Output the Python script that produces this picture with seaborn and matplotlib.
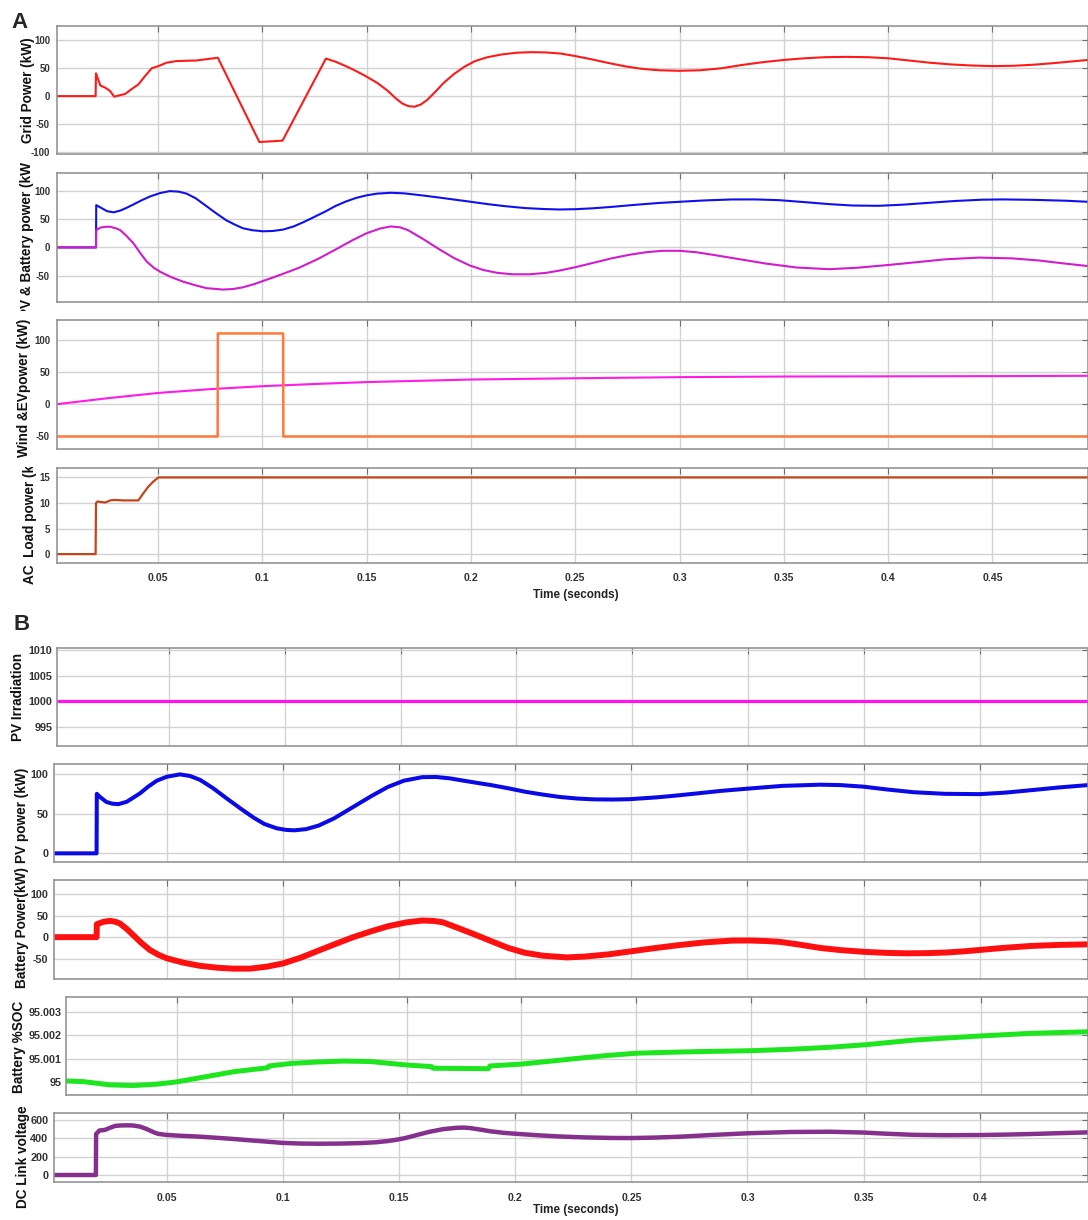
import matplotlib
matplotlib.use("Agg")
import matplotlib.pyplot as plt
from matplotlib import font_manager
from matplotlib.ticker import FuncFormatter
import seaborn as sns
from matplotlib.transforms import Bbox, TransformedBbox, blended_transform_factory

# ---------------- panel A: grid / PV & battery / wind & EV / AC load ----------------
grid_t = [0.0016, 0.0201, 0.0203, 0.0211, 0.0224, 0.0248, 0.0271, 0.0290, 0.0311, 0.0343,
          0.0375, 0.0406, 0.0438, 0.0470, 0.0502, 0.0541, 0.0589, 0.0684, 0.0787, 0.0986,
          0.1097, 0.1305, 0.1350, 0.1400, 0.1450, 0.1500, 0.1550, 0.1600, 0.1640, 0.1670,
          0.1700, 0.1730, 0.1760, 0.1790, 0.1830, 0.1870, 0.1920, 0.1970, 0.2020, 0.2080,
          0.2150, 0.2220, 0.2290, 0.2360, 0.2430, 0.2500, 0.2580, 0.2660, 0.2740, 0.2820,
          0.2900, 0.3000, 0.3100, 0.3200, 0.3300, 0.3400, 0.3500, 0.3600, 0.3700, 0.3800,
          0.3900, 0.4000, 0.4100, 0.4200, 0.4300, 0.4400, 0.4500, 0.4600, 0.4700, 0.4800,
          0.4900, 0.4958]
grid_kw = [0, 0, 41, 32, 19, 15, 9, -1, 1, 4,
           13, 21, 36, 50, 54, 60, 63, 64, 69, -82.5,
           -80, 67.5, 62, 54, 45, 35, 24, 10, -4, -13,
           -18, -19, -15, -7, 8, 24, 40, 53, 63, 70,
           75, 78, 79, 78.5, 76.5, 72, 66, 59.5, 53.5, 49,
           46.5, 45.5, 46.5, 50, 56, 61, 65, 68, 70, 70.5,
           70, 68, 64, 60, 57, 55, 54, 54.5, 56.5, 59.5,
           63, 65]

pv_t = [0.0016, 0.0203, 0.0204, 0.0224, 0.0256, 0.0287, 0.0319, 0.0350, 0.0383, 0.0420,
        0.0462, 0.0510, 0.0557, 0.0600, 0.0637, 0.0680, 0.0732, 0.0780, 0.0827, 0.0870,
        0.0906, 0.0950, 0.1002, 0.1050, 0.1100, 0.1150, 0.1200, 0.1250, 0.1300, 0.1350,
        0.1400, 0.1450, 0.1500, 0.1550, 0.1616, 0.1680, 0.1764, 0.1850, 0.1920, 0.2000,
        0.2080, 0.2160, 0.2260, 0.2350, 0.2424, 0.2500, 0.2580, 0.2672, 0.2780, 0.2900,
        0.3000, 0.3120, 0.3249, 0.3360, 0.3476, 0.3600, 0.3716, 0.3830, 0.3955, 0.4070,
        0.4195, 0.4320, 0.4450, 0.4550, 0.4700, 0.4850, 0.4958]
pv_kw = [0, 0, 74.7, 70.6, 64, 62, 65, 70, 76, 83,
         90, 96, 99.5, 98.5, 95, 87, 73, 60, 48, 40,
         34, 30.5, 28.5, 29, 31.5, 37, 45, 54, 63, 73,
         81, 87.5, 92, 95, 96.5, 95.5, 92, 88, 84.5, 80.6,
         76.5, 73, 69.5, 67.8, 67, 67.5, 69, 71.5, 75, 78.5,
         80.6, 83, 84.7, 84.8, 83.5, 80, 76.5, 74, 73.5, 75.5,
         78.8, 82, 84.3, 84.8, 84, 82.5, 80.6]

batt_t = [0.0016, 0.0203, 0.0204, 0.0224, 0.0250, 0.0271, 0.0300, 0.0319, 0.0350, 0.0383,
          0.0415, 0.0446, 0.0480, 0.0510, 0.0560, 0.0621, 0.0680, 0.0732, 0.0811, 0.0860,
          0.0906, 0.0960, 0.1017, 0.1060, 0.1104, 0.1176, 0.1269, 0.1350, 0.1434, 0.1500,
          0.1566, 0.1616, 0.1660, 0.1698, 0.1770, 0.1847, 0.1920, 0.1995, 0.2060, 0.2127,
          0.2200, 0.2280, 0.2360, 0.2424, 0.2500, 0.2590, 0.2672, 0.2760, 0.2840, 0.2917,
          0.3000, 0.3080, 0.3167, 0.3290, 0.3413, 0.3560, 0.3716, 0.3850, 0.4003, 0.4140,
          0.4275, 0.4435, 0.4594, 0.4720, 0.4834, 0.4958]
batt_kw = [0, 0, 30.6, 35, 36.5, 36.5, 33.5, 30.6, 20, 7,
           -10, -25, -36, -43, -52, -60.6, -67, -72, -74.5, -73.5,
           -70.6, -65, -57.6, -52, -46, -36, -20, -4, 13, 25,
           33.5, 37, 35.5, 30.6, 15, -3, -19, -32, -40, -45,
           -47.5, -47.5, -45, -41, -35, -27, -19.5, -13, -8.5, -6,
           -6, -8.5, -13.5, -21, -28.5, -35.5, -38.5, -36, -31, -26,
           -21, -18, -19.4, -23, -28, -33]

wind_t = [0.0016, 0.025, 0.05, 0.075, 0.1, 0.125, 0.15, 0.2, 0.25, 0.3, 0.35, 0.4, 0.45, 0.4958]
wind_kw = [0.5, 9.5, 18, 24, 28.6, 32, 35, 39, 41, 42.7, 43.7, 44, 44.3, 44.8]

ev_t = [0.0016, 0.0786, 0.0787, 0.1100, 0.1101, 0.4958]
ev_kw = [-50, -50, 111, 111, -50, -50]

load_t = [0.0016, 0.0201, 0.0203, 0.0211, 0.0224, 0.0248, 0.0271, 0.0290, 0.0330, 0.0406,
          0.0430, 0.0454, 0.0478, 0.0502, 0.4958]
load_kw = [0, 0, 10.0, 10.3, 10.2, 10.1, 10.5, 10.6, 10.5, 10.5,
           11.9, 13.2, 14.2, 15, 15]

# ---------------- panel B: irradiation / PV / battery / SOC / DC link ----------------
irr_t = [0.0016, 0.4466]
irr_wm2 = [1000, 1000]

pvb_t = [0.0016, 0.0198, 0.0199, 0.0213, 0.0241, 0.0267, 0.0292, 0.0328, 0.0355, 0.0385,
         0.0420, 0.0457, 0.0500, 0.0557, 0.0600, 0.0644, 0.0700, 0.0759, 0.0820, 0.0874,
         0.0920, 0.0974, 0.1015, 0.1050, 0.1100, 0.1154, 0.1220, 0.1303, 0.1380, 0.1451,
         0.1520, 0.1600, 0.1660, 0.1718, 0.1800, 0.1896, 0.1970, 0.2045, 0.2120, 0.2193,
         0.2270, 0.2341, 0.2420, 0.2490, 0.2608, 0.2700, 0.2786, 0.2890, 0.3000, 0.3150,
         0.3313, 0.3400, 0.3500, 0.3600, 0.3716, 0.3850, 0.4000, 0.4110, 0.4218, 0.4340,
         0.4466]
pvb_kw = [0, 0, 75, 71, 64.6, 62.5, 62, 65, 70, 75.6,
          84, 91.5, 96.5, 99.5, 97.5, 92.5, 82, 69, 56, 45,
          37, 31.5, 29.5, 29, 30.5, 35, 44, 58.5, 72, 83.5,
          91.5, 96, 96.2, 94.5, 90.5, 86, 82, 77.5, 74, 71,
          69, 68, 67.8, 68.2, 70.5, 73, 75.6, 78.8, 81.5, 85,
          86.5, 86, 84, 80.5, 77, 75, 74.6, 76.5, 79.5, 83,
          86]

battb_t = [0.0016, 0.0198, 0.0199, 0.0227, 0.0256, 0.0280, 0.0299, 0.0330, 0.0356, 0.0390,
           0.0428, 0.0465, 0.0500, 0.0570, 0.0644, 0.0720, 0.0787, 0.0858, 0.0930, 0.1000,
           0.1080, 0.1154, 0.1230, 0.1303, 0.1380, 0.1451, 0.1530, 0.1600, 0.1650, 0.1688,
           0.1750, 0.1822, 0.1900, 0.1970, 0.2040, 0.2119, 0.2223, 0.2300, 0.2400, 0.2490,
           0.2600, 0.2712, 0.2820, 0.2935, 0.3009, 0.3080, 0.3141, 0.3220, 0.3313, 0.3400,
           0.3500, 0.3600, 0.3687, 0.3780, 0.3859, 0.3930, 0.4000, 0.4100, 0.4218, 0.4340,
           0.4466]
battb_kw = [0, 0, 30, 35.4, 37.7, 35.5, 31.5, 18, 4.6, -13,
            -30, -41, -49, -59, -66.5, -71, -73, -73, -68.5, -61,
            -47, -31, -15, 0, 13.5, 25, 34, 38.5, 37.5, 34.5,
            22, 7, -10, -25, -36, -43, -47, -45, -40, -33.5,
            -25.5, -18, -12, -8, -7.8, -9, -11, -17, -25, -30,
            -34, -36.5, -37.5, -37, -35.5, -33, -29.7, -25, -20.5, -18,
            -16.7]

soc_t = [0.0016, 0.0092, 0.0208, 0.0310, 0.0413, 0.0500, 0.0602, 0.0748, 0.0895, 0.0902,
         0.1000, 0.1110, 0.1225, 0.1345, 0.1500, 0.1608, 0.1616, 0.1856, 0.1863, 0.2000,
         0.2120, 0.2246, 0.2370, 0.2500, 0.2640, 0.2772, 0.3000, 0.3170, 0.3345, 0.3500,
         0.3707, 0.3850, 0.4000, 0.4214, 0.4466]
soc_pct = [95.00003, 95.0, 94.99986, 94.99983, 94.99989, 94.99999, 95.00017, 95.00043, 95.00060, 95.00068,
           95.00079, 95.00085, 95.00089, 95.00087, 95.00072, 95.00065, 95.00058, 95.00056, 95.00068, 95.00076,
           95.00088, 95.00101, 95.00113, 95.00123, 95.00127, 95.00130, 95.00134, 95.00140, 95.00149, 95.00160,
           95.00180, 95.00189, 95.00198, 95.00209, 95.00216]

dc_t = [0.0016, 0.0195, 0.0196, 0.0210, 0.0234, 0.0256, 0.0277, 0.0300, 0.0328, 0.0355,
        0.0385, 0.0410, 0.0428, 0.0445, 0.0464, 0.0500, 0.0560, 0.0644, 0.0720, 0.0787,
        0.0860, 0.0931, 0.1000, 0.1080, 0.1154, 0.1250, 0.1332, 0.1400, 0.1451, 0.1490,
        0.1525, 0.1575, 0.1629, 0.1690, 0.1748, 0.1780, 0.1807, 0.1850, 0.1896, 0.1950,
        0.2000, 0.2100, 0.2193, 0.2300, 0.2415, 0.2500, 0.2600, 0.2712, 0.2850, 0.3000,
        0.3184, 0.3355, 0.3500, 0.3600, 0.3717, 0.3850, 0.4000, 0.4120, 0.4220, 0.4340,
        0.4466]
dc_v = [0, 0, 447, 485, 492, 515, 535, 540, 542, 540,
        528, 505, 485, 465, 448, 437, 428, 418, 405, 393,
        378, 364, 350, 343, 341, 343, 348, 357, 370, 385,
        402, 435, 470, 500, 515, 517, 512, 495, 476, 460,
        450, 433, 420, 410, 404, 403, 408, 418, 437, 455,
        469, 472, 463, 450, 438, 434, 436, 441, 447, 456,
        465]

ticks_a = [0.05, 0.1, 0.15, 0.2, 0.25, 0.3, 0.35, 0.4, 0.45]
ticks_b = [0.05, 0.1, 0.15, 0.2, 0.25, 0.3, 0.35, 0.4]

# ---------------- styling ----------------
sns.set_theme(style="white")
plt.rcParams["font.family"] = ["Liberation Sans", "DejaVu Sans"]
plt.rcParams["axes.unicode_minus"] = False

# condensed face for the panel-A value axis, if the narrow cut is installed
_names = {f.name for f in font_manager.fontManager.ttflist}
if "Liberation Sans Narrow" in _names:
    NARROW = dict(family=["Liberation Sans Narrow", "Liberation Sans"], size=7.6)
else:
    NARROW = dict(family=["Liberation Sans", "DejaVu Sans"], size=6.9)

W, H = 1088, 1220
fig = plt.figure(figsize=(W / 100, H / 100), dpi=100)
fig.patch.set_facecolor("white")

TICK_COLOR = "#333333"
SPINE = "#8c8c8c"
GRID = "#d2d2d2"
FIG_TR = blended_transform_factory(fig.transFigure, fig.transFigure)
plain = FuncFormatter(lambda v, pos: "%g" % round(v, 6))


def make_axes(left, top, bottom, xlim, yticks, ylim, xticks, ypad, xpad=None):
    ax = fig.add_axes([left / W, 1 - bottom / H, (W - left) / W, (bottom - top) / H])
    ax.set_facecolor("white")
    ax.set_xlim(*xlim)
    ax.set_ylim(*ylim)
    ax.set_xticks(xticks)
    ax.set_yticks(yticks)
    ax.xaxis.set_major_formatter(plain)
    ax.yaxis.set_major_formatter(plain)
    ax.grid(True, color=GRID, lw=1.0)
    ax.set_axisbelow(True)
    ax.tick_params(direction="in", top=True, right=True, length=4, width=0.8,
                   color="#707070", labelsize=7.6, labelcolor=TICK_COLOR)
    ax.tick_params(axis="y", pad=ypad)
    if xpad is None:
        ax.tick_params(labelbottom=False)
    else:
        ax.tick_params(axis="x", pad=xpad)
    for s in ax.spines.values():
        s.set_color(SPINE)
        s.set_linewidth(1.1)
    return ax


def style_ticks(ax, narrow_y=False, ysize=7.8):
    for lab in ax.get_xticklabels():
        lab.set_fontweight("bold")
    for lab in ax.get_yticklabels():
        lab.set_fontweight("bold")
        if narrow_y:
            lab.set_fontfamily(NARROW["family"])
            lab.set_fontsize(NARROW["size"])
        else:
            lab.set_fontsize(ysize)


def ylab(ax, text, xpx, ypx, clip=None):
    ax.set_ylabel(text, fontsize=9.8, fontweight="bold", color="#111111", va="center")
    ax.yaxis.set_label_coords(xpx / W, 1 - ypx / H, transform=FIG_TR)
    if clip is not None:
        lab = ax.yaxis.label
        lab.set_clip_on(True)
        lab.set_clip_box(TransformedBbox(Bbox([[0, 1 - clip[1] / H], [1, 1 - clip[0] / H]]),
                                         fig.transFigure))


def xlab(ax, ypx):
    ax.set_xlabel("Time (seconds)", fontsize=8.4, fontweight="bold", color="#222222", va="center")
    ax.xaxis.set_label_coords(576 / W, 1 - ypx / H, transform=FIG_TR)


def trace(ax, t, v, color, lw):
    sns.lineplot(x=t, y=v, ax=ax, color=color, lw=lw, estimator=None, sort=False,
                 solid_capstyle="butt", solid_joinstyle="round")
    ax.set_xlabel("")


xa = (0.0016, 0.4958)
xb = (0.0016, 0.4466)

# Panel A
a1 = make_axes(57, 26, 154, xa, [-100, -50, 0, 50, 100], (-104, 126), ticks_a, 5.0)
trace(a1, grid_t, grid_kw, "#ff1a1a", 1.5)
ylab(a1, "Grid Power (kW)", 28, 90)

a2 = make_axes(57, 172.7, 302.3, xa, [-50, 0, 50, 100], (-97, 132), ticks_a, 5.0)
trace(a2, pv_t, pv_kw, "#1010ee", 1.5)
trace(a2, batt_t, batt_kw, "#d21ccc", 1.5)
ylab(a2, "PV & Battery power (kW)", 26.5, 237.5, clip=(163, 311))

a3 = make_axes(57, 320, 449.3, xa, [-50, 0, 50, 100], (-70, 132), ticks_a, 5.0)
trace(a3, wind_t, wind_kw, "#ff1ae6", 1.5)
trace(a3, ev_t, ev_kw, "#ff7a3a", 1.8)
ylab(a3, "Wind &EVpower (kW)", 24, 388, clip=(311, 459))

a4 = make_axes(57, 467.7, 563.3, xa, [0, 5, 10, 15], (-1.8, 16.9), ticks_a, 5.0, xpad=7.0)
trace(a4, load_t, load_kw, "#c2461a", 1.6)
ylab(a4, "AC  Load power (kW)", 30, 515.5, clip=(467, 600))
xlab(a4, 595)

# Panel B
b1 = make_axes(56.7, 647.7, 746, xb, [995, 1000, 1005, 1010], (991.2, 1010.5), ticks_b, 3.2)
trace(b1, irr_t, irr_wm2, "#ff14f0", 2.3)
ylab(b1, "PV Irradiation", 18, 697)

b2 = make_axes(54.3, 764.3, 862.3, xb, [0, 50, 100], (-11.3, 112.2), ticks_b, 4.2)
trace(b2, pvb_t, pvb_kw, "#0a0ae6", 2.9)
ylab(b2, "PV power (kW)", 22.5, 815)

b3 = make_axes(54.3, 880, 979.3, xb, [-50, 0, 50, 100], (-97.7, 132.4), ticks_b, 4.2)
trace(b3, battb_t, battb_kw, "#ff1010", 4.3)
ylab(b3, "Battery Power(kW)", 22, 928)

b4 = make_axes(65.7, 996.7, 1095, xb, [95.0, 95.001, 95.002, 95.003],
               (94.99942, 95.00368), ticks_b, 3.2)
trace(b4, soc_t, soc_pct, "#1ee61e", 3.6)
b4.set_yticklabels(["95", "95.001", "95.002", "95.003"])
ylab(b4, "Battery %SOC", 19, 1047)

b5 = make_axes(54.3, 1113.3, 1181.7, xb, [0, 200, 400, 600], (-73, 673), ticks_b, 4.2, xpad=8.0)
trace(b5, dc_t, dc_v, "#84308c", 3.2)
ylab(b5, "DC Link voltage", 23, 1157)
xlab(b5, 1210)

for ax in (a1, a2, a3, a4):
    style_ticks(ax, narrow_y=True)
for ax in (b1, b2, b3, b4, b5):
    style_ticks(ax, ysize=7.8)

fig.text(19 / W, 1 - 22 / H, "A", fontsize=16, fontweight="bold", ha="center", va="center")
fig.text(22 / W, 1 - 625 / H, "B", fontsize=16, fontweight="bold", ha="center", va="center")

fig.savefig("out.png", dpi=100, facecolor="white")
